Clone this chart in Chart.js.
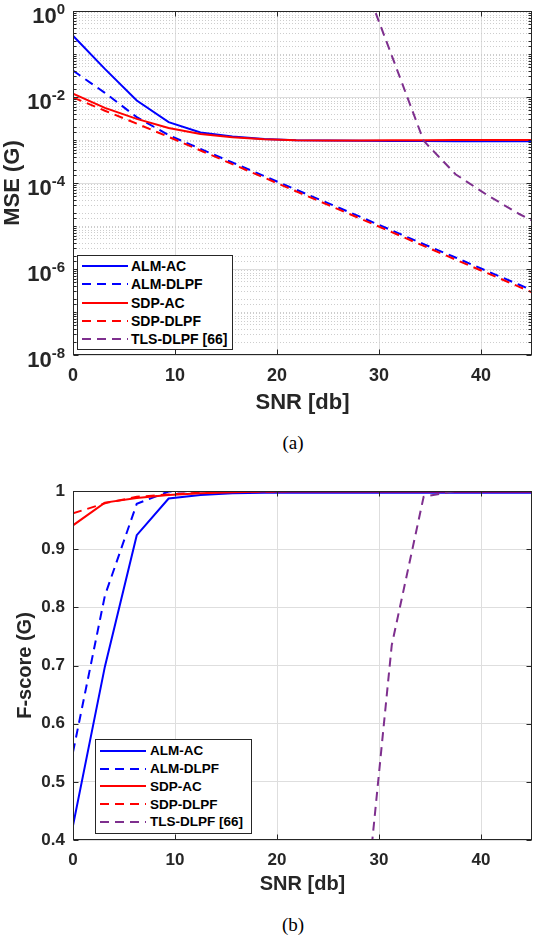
<!DOCTYPE html>
<html>
<head>
<meta charset="utf-8">
<title>MSE and F-score vs SNR</title>
<script src="https://cdn.jsdelivr.net/npm/chart.js@4.4.1/dist/chart.umd.min.js"></script>
<style>
  body { margin: 0; background: #fff; }
  #page { position: relative; width: 534px; height: 938px; overflow: hidden; background: #fff; }
  canvas { position: absolute; left: 0; }
  .legend { position: absolute; background: #fff; border: 1px solid #262626; box-sizing: border-box;
            font-family: 'Liberation Sans', Arial, sans-serif; font-weight: bold; color: #000; }
  .legend .row { position: absolute; left: 0; height: 18px; display: flex; align-items: center; white-space: nowrap; }
  .legend svg { display: block; flex: none; }
  .caption { position: absolute; font-family: 'Liberation Serif', 'Times New Roman', serif; font-size: 19px;
             color: #000; transform: translate(-50%, -50%); white-space: nowrap; }
</style>
</head>
<body>
<div id="page">
  <canvas id="mseChart" width="534" height="420" style="top:0"></canvas>
  <div id="mseLegend" class="legend" style="left:77px;top:255px;width:156px;height:95px"></div>
  <div class="caption" style="left:293px;top:443px">(a)</div>

  <canvas id="fscoreChart" width="534" height="430" style="top:470px"></canvas>
  <div id="fscoreLegend" class="legend" style="left:95px;top:739px;width:157px;height:95px"></div>
  <div class="caption" style="left:293px;top:925px">(b)</div>
</div>
<script>
'use strict';

// Data, SNR in dB

var snr = [0, 3.125, 6.25, 9.375, 12.5, 15.625, 18.75, 21.875, 25, 28.125, 31.25, 34.375, 37.5, 40.625, 43.75, 46.875];
var seriesLabels = ['ALM-AC', 'ALM-DLPF', 'SDP-AC', 'SDP-DLPF', 'TLS-DLPF [66]'];

// (a) MSE
var mseAlmAc = [0.265, 0.045, 0.0083, 0.0026, 0.0015, 0.0012, 0.00105, 0.00099, 0.00097, 0.00096, 0.00095, 0.00095, 0.00094, 0.00094, 0.00094, 0.00094];
var mseAlmDlpf = [0.041, 0.0125, 0.0034, 0.0013, 6.2e-4, 3.0e-4, 1.45e-4, 7.0e-5, 3.4e-5, 1.65e-5, 7.9e-6, 3.8e-6, 1.85e-6, 8.9e-7, 4.3e-7, 2.1e-7];
var mseSdpAc = [0.012, 0.0056, 0.0031, 0.0019, 0.00138, 0.00116, 0.00104, 0.00099, 0.00098, 0.00098, 0.00099, 0.00099, 0.001, 0.001, 0.001, 0.001];
var mseSdpDlpf = [0.0098, 0.0048, 0.0024, 0.00118, 5.7e-4, 2.75e-4, 1.33e-4, 6.4e-5, 3.1e-5, 1.5e-5, 7.2e-6, 3.45e-6, 1.66e-6, 8.0e-7, 3.85e-7, 1.85e-7];
var mseTls = [null, null, null, null, null, null, null, null, null, 8.5, 0.092, 9.6e-4, 1.6e-4, 5.2e-5, 1.9e-5, 8e-6];

// (b) F-score
var fAlmAc = [0.425, 0.698, 0.924, 0.987, 0.993, 0.996, 0.997, 0.997, 0.997, 0.997, 0.997, 0.997, 0.997, 0.997, 0.997, 0.997];
var fAlmDlpf = [0.551, 0.82, 0.978, 0.999, 1, 1, 1, 1, 1, 1, 1, 1, 1, 1, 1, 1];
var fSdpAc = [0.941, 0.98, 0.988, 0.993, 0.996, 0.998, 0.999, 0.999, 0.999, 0.999, 0.999, 0.999, 0.999, 0.999, 0.999, 0.999];
var fSdpDlpf = [0.9615, 0.979, 0.99, 0.994, 0.997, 0.999, 0.999, 1, 1, 1, 1, 1, 1, 1, 1, 1];
var fTls = [null, null, null, null, null, null, null, null, null, 0.185, 0.735, 0.99, 1, 1, 1, 1];

// tick labels
var xTicks = [0, 10, 20, 30, 40];
var mseTickExponents = [0, -2, -4, -6, -8];
var fscoreTicks = [0.4, 0.5, 0.6, 0.7, 0.8, 0.9, 1];

// Styles

var FONT = "'Liberation Sans', 'DejaVu Sans', Arial, sans-serif";
var AXIS_COLOR = '#262626';
var MAJOR_GRID = '#dedede';
var MINOR_GRID = '#cdcdcd';
var DASH = [9, 6];
var seriesColors = ['#0000ff', '#0000ff', '#ff0000', '#ff0000', '#7e2f8e'];
var seriesDashed = [false, true, false, true, true];

function decadeOf(v) {
  var e = Math.log10(v);
  var r = Math.round(e);
  return Math.abs(e - r) < 1e-6 ? r : null;
}

function isLabeledDecade(v) {
  var d = decadeOf(v);
  return d !== null && mseTickExponents.indexOf(d) !== -1;
}

function makeDatasets(valueArrays) {
  return valueArrays.map(function(vals, i) {
    return {
      label: seriesLabels[i],
      data: snr.map(function(x, j) { return {x: x, y: vals[j]}; }),
      borderColor: seriesColors[i],
      backgroundColor: seriesColors[i],
      borderDash: seriesDashed[i] ? DASH : [],
      borderWidth: 2,
      pointRadius: 0,
      tension: 0,
      fill: false,
      order: valueArrays.length - i
    };
  });
}

// box round the plot with MATLAB-style inward ticks
var frameAndTicks = {
  id: 'frameAndTicks',
  afterDraw: function(chart, args, opts) {
    var a = chart.chartArea;
    var c = chart.ctx;
    var xs = chart.scales.x;
    var ys = chart.scales.y;
    var l = Math.round(a.left) + 0.5, r = Math.round(a.right) - 0.5;
    var t = Math.round(a.top) + 0.5, b = Math.round(a.bottom) - 0.5;
    c.save();
    c.strokeStyle = AXIS_COLOR;
    c.lineWidth = 1;
    c.beginPath();
    xs.ticks.forEach(function(tk) {
      var px = Math.round(xs.getPixelForValue(tk.value)) + 0.5;
      c.moveTo(px, b); c.lineTo(px, b - 5);
      c.moveTo(px, t); c.lineTo(px, t + 5);
    });
    ys.ticks.forEach(function(tk) {
      var py = Math.round(ys.getPixelForValue(tk.value)) + 0.5;
      var len = opts.yTickLength(tk.value);
      c.moveTo(l, py); c.lineTo(l + len, py);
      c.moveTo(r, py); c.lineTo(r - len, py);
    });
    c.stroke();
    c.strokeRect(l, t, r - l, b - t);
    c.restore();
  }
};

// 10^n labels of the log axis, with a raised exponent
var powerTickLabels = {
  id: 'powerTickLabels',
  afterDraw: function(chart) {
    var ys = chart.scales.y;
    var c = chart.ctx;
    var right = chart.chartArea.left - 8;
    c.save();
    c.fillStyle = AXIS_COLOR;
    c.textAlign = 'left';
    c.textBaseline = 'alphabetic';
    ys.ticks.forEach(function(tk) {
      if (!isLabeledDecade(tk.value)) return;
      var py = ys.getPixelForValue(tk.value);
      var exp = String(decadeOf(tk.value));
      c.font = 'bold 15px ' + FONT;
      var wExp = c.measureText(exp).width;
      c.font = 'bold 22px ' + FONT;
      var wBase = c.measureText('10').width;
      c.fillText('10', right - wExp - wBase, py + 11.5);
      c.font = 'bold 15px ' + FONT;
      c.fillText(exp, right - wExp, py + 2.5);
    });
    c.restore();
  }
};

function xScale(tickSize, titleSize, height) {
  return {
    type: 'linear',
    min: 0,
    max: 45,
    border: {display: false},
    grid: {color: MAJOR_GRID, drawTicks: false},
    afterBuildTicks: function(s) { s.ticks = xTicks.map(function(v) { return {value: v}; }); },
    ticks: {padding: 10, color: AXIS_COLOR, font: {family: FONT, size: tickSize, weight: 'bold'}},
    title: {display: true, text: 'SNR [db]', color: AXIS_COLOR, padding: {top: 0, bottom: 4},
      font: {family: FONT, size: titleSize, weight: 'bold'}},
    afterFit: function(s) { s.height = height; }
  };
}

function buildLegend(chart, boxId, rowTop, rowStep, sampleLeft, textGap, fontSize) {
  var box = document.getElementById(boxId);
  chart.data.datasets.forEach(function(ds, i) {
    var row = document.createElement('div');
    row.className = 'row';
    row.style.top = (rowTop + i * rowStep - 9) + 'px';
    row.style.left = sampleLeft + 'px';
    row.style.fontSize = fontSize + 'px';

    var svg = document.createElementNS('http://www.w3.org/2000/svg', 'svg');
    svg.setAttribute('width', '46');
    svg.setAttribute('height', '6');
    var line = document.createElementNS('http://www.w3.org/2000/svg', 'line');
    line.setAttribute('x1', '0'); line.setAttribute('y1', '3');
    line.setAttribute('x2', '46'); line.setAttribute('y2', '3');
    line.setAttribute('stroke', ds.borderColor);
    line.setAttribute('stroke-width', '2');
    if (ds.borderDash.length) line.setAttribute('stroke-dasharray', ds.borderDash.join(' '));
    svg.appendChild(line);

    var label = document.createElement('span');
    label.textContent = ds.label;
    label.style.marginLeft = textGap + 'px';

    row.appendChild(svg);
    row.appendChild(label);
    box.appendChild(row);
  });
}

// (a) MSE chart

var mseChart = new Chart(document.getElementById('mseChart'), {
  type: 'line',
  data: {datasets: makeDatasets([mseAlmAc, mseAlmDlpf, mseSdpAc, mseSdpDlpf, mseTls])},
  plugins: [frameAndTicks, powerTickLabels],
  options: {
    responsive: false,
    animation: false,
    layout: {padding: {top: 11, right: 2, left: 0, bottom: 0}},
    plugins: {
      legend: {display: false},
      tooltip: {enabled: false},
      frameAndTicks: {yTickLength: function(v) { return isLabeledDecade(v) ? 5 : 3; }}
    },
    scales: {
      x: xScale(18, 22, 65),
      y: {
        type: 'logarithmic',
        min: 1e-8,
        max: 1,
        border: {display: false},
        grid: {
          drawTicks: false,
          color: function(c) { return c.tick && isLabeledDecade(c.tick.value) ? MAJOR_GRID : 'rgba(0,0,0,0)'; }
        },
        ticks: {display: false, autoSkip: false},
        title: {display: true, text: 'MSE (G)', color: AXIS_COLOR, padding: {top: 0, bottom: 0},
          font: {family: FONT, size: 22, weight: 'bold'}},
        afterFit: function(s) { s.width = 73; }
      },
      // dotted minor grid of the log axis
      yMinor: {
        type: 'logarithmic',
        position: 'left',
        min: 1e-8,
        max: 1,
        border: {display: false, dash: [1, 2]},
        grid: {
          drawTicks: false,
          color: function(c) { return c.tick && !isLabeledDecade(c.tick.value) ? MINOR_GRID : 'rgba(0,0,0,0)'; }
        },
        ticks: {display: false, autoSkip: false},
        afterFit: function(s) { s.width = 0; }
      }
    }
  }
});

// (b) F-score chart

var fscoreChart = new Chart(document.getElementById('fscoreChart'), {
  type: 'line',
  data: {datasets: makeDatasets([fAlmAc, fAlmDlpf, fSdpAc, fSdpDlpf, fTls])},
  plugins: [frameAndTicks],
  options: {
    responsive: false,
    animation: false,
    layout: {padding: {top: 21, right: 2, left: 13, bottom: 0}},
    plugins: {
      legend: {display: false},
      tooltip: {enabled: false},
      frameAndTicks: {yTickLength: function() { return 5; }}
    },
    scales: {
      x: xScale(17, 20, 60),
      y: {
        type: 'linear',
        min: 0.4,
        max: 1,
        border: {display: false},
        grid: {color: MAJOR_GRID, drawTicks: false},
        afterBuildTicks: function(s) { s.ticks = fscoreTicks.map(function(v) { return {value: v}; }); },
        ticks: {
          padding: 8,
          color: AXIS_COLOR,
          font: {family: FONT, size: 17, weight: 'bold'},
          callback: function(v) { return String(Math.round(v * 10) / 10); }
        },
        title: {display: true, text: 'F-score (G)', color: AXIS_COLOR, padding: {top: 0, bottom: 0},
          font: {family: FONT, size: 20, weight: 'bold'}},
        afterFit: function(s) { s.width = 60; }
      }
    }
  }
});

buildLegend(mseChart, 'mseLegend', 10, 18.3, 4, 3, 14);
buildLegend(fscoreChart, 'fscoreLegend', 10.7, 17.8, 4, 4, 13.5);
</script>
</body>
</html>
